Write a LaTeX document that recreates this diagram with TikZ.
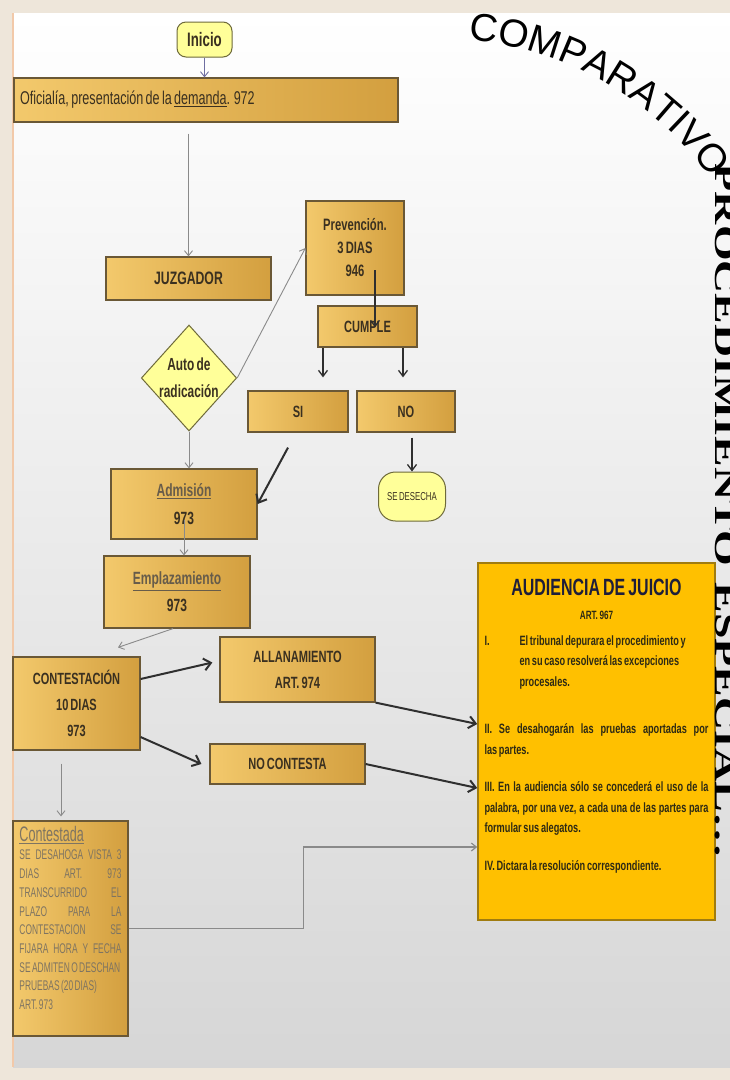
\documentclass[tikz,border=0pt]{standalone}
\usepackage{fontspec}
\setmainfont{Liberation Sans}
\newfontfamily\narrowsf[FakeStretch=0.68, WordSpace=0.68]{Liberation Sans}
\newfontfamily\condsf[FakeStretch=0.6, WordSpace=0.6]{Liberation Sans}
\newfontfamily\tallserif[FakeStretch=1.48, WordSpace=1.48]{Liberation Serif}
\newfontfamily\wordsf{Liberation Sans}
\usetikzlibrary{shapes.geometric, arrows.meta, positioning, decorations.text}

\definecolor{goldlight}{HTML}{F3C96C}
\definecolor{golddark}{HTML}{D39F3F}
\definecolor{boxline}{HTML}{6A5836}
\definecolor{boxtext}{HTML}{3A3020}
\definecolor{paleyellow}{HTML}{FFFF99}
\definecolor{yellowline}{HTML}{6E6A3A}
\definecolor{audfill}{HTML}{FFC000}
\definecolor{audline}{HTML}{A07C10}
\definecolor{audtitle}{HTML}{1E1E3A}
\definecolor{audtext}{HTML}{2E2A14}
\definecolor{linkgray}{HTML}{675C4A}
\definecolor{softgray}{HTML}{7E7462}
\definecolor{arrgray}{HTML}{8A8A8A}
\definecolor{arrdark}{HTML}{2F2F2F}
\definecolor{framebg}{HTML}{EEE6DA}
\definecolor{edgeline}{HTML}{F2C9A9}

\begin{document}
\begin{tikzpicture}[x=1pt, y=-1pt,
  goldbox/.style={draw=boxline, line width=1.2pt, left color=goldlight, right color=golddark, inner sep=0pt, text=boxtext, align=center},
  yellowbox/.style={draw=yellowline, line width=1pt, fill=paleyellow, inner sep=0pt, text=boxtext, align=center},
  audbox/.style={draw=audline, line width=1.5pt, fill=audfill, inner sep=6pt, text=audtext},
  thinarr/.style={draw=arrgray, line width=0.9pt, -{Straight Barb[length=5pt,width=8pt]}},
  darkarr/.style={draw=arrdark, line width=1.3pt, -{Straight Barb[length=6pt,width=9pt]}},
  thickarr/.style={draw=arrdark, line width=2pt, -{Straight Barb[length=7pt,width=12pt]}},
]
\useasboundingbox (0,0) rectangle (730,1080);
% background
\fill[framebg] (0,0) rectangle (730,1080);
\shade[top color=white, bottom color=black!16] (13,13) rectangle (730,1067);
\draw[edgeline, line width=2pt] (13,13) -- (13,1067);

% title
\path[decorate, decoration={text along path, text align=fit to path,
  text={|\wordsf\fontsize{39}{39}\selectfont|COMPARATIVO}}]
  (468,40) arc[start angle=85, end angle=36, radius=335pt];

% flow
\node[yellowbox, rounded corners=9pt, minimum width=55pt, minimum height=35pt, font=\narrowsf\bfseries\fontsize{19.5}{20}\selectfont] (inicio) at (204.5,39.5) {Inicio};
\node[goldbox, minimum width=384pt, minimum height=44pt, font=\narrowsf\fontsize{18.5}{20}\selectfont] (ofic) at (206,100) {\makebox[372pt][l]{Oficialía, presentación de la \underline{demanda}. 972}};
\node[goldbox, minimum width=165pt, minimum height=43pt, font=\narrowsf\bfseries\fontsize{18}{20}\selectfont] (juz) at (188.5,278.5) {JUZGADOR};
\node[yellowbox, diamond, aspect=0.9, minimum width=95pt, minimum height=105pt, font=\narrowsf\bfseries\fontsize{17.5}{27}\selectfont] (auto) at (189,378) {Auto de\\radicación};
\node[goldbox, minimum width=98pt, minimum height=94pt, font=\narrowsf\bfseries\fontsize{16.5}{23}\selectfont] (prev) at (355,248) {Prevención.\\3 DIAS\\946};
\node[goldbox, minimum width=99pt, minimum height=41pt, font=\narrowsf\bfseries\fontsize{16.3}{18}\selectfont] (cumple) at (367.5,326.5) {CUMPLE};
\node[goldbox, minimum width=100pt, minimum height=41pt, font=\narrowsf\bfseries\fontsize{16.3}{18}\selectfont] (si) at (298,411.5) {SI};
\node[goldbox, minimum width=98pt, minimum height=41pt, font=\narrowsf\bfseries\fontsize{16.3}{18}\selectfont] (no) at (406,411.5) {NO};
\node[yellowbox, rounded corners=17pt, minimum width=67pt, minimum height=49pt, font=\narrowsf\fontsize{11.5}{13}\selectfont] (desecha) at (412,496.5) {SE DESECHA};
\node[goldbox, minimum width=146pt, minimum height=70pt, font=\narrowsf\bfseries\fontsize{17.7}{28}\selectfont] (adm) at (184,504) {\textcolor{linkgray}{\underline{Admisión}}\\973};
\node[goldbox, minimum width=146pt, minimum height=72pt, font=\narrowsf\bfseries\fontsize{17.7}{27}\selectfont] (empl) at (177,592) {\textcolor{linkgray}{\underline{Emplazamiento}}\\973};
\node[goldbox, minimum width=127pt, minimum height=93pt, font=\narrowsf\bfseries\fontsize{16.2}{26}\selectfont] (cont) at (76.5,703.5) {CONTESTACIÓN\\10 DIAS\\973};
\node[goldbox, minimum width=155pt, minimum height=65pt, font=\narrowsf\bfseries\fontsize{16.3}{26}\selectfont] (allan) at (297.5,669.5) {ALLANAMIENTO\\ART. 974};
\node[goldbox, minimum width=155pt, minimum height=40pt, font=\narrowsf\bfseries\fontsize{16.2}{18}\selectfont] (nocont) at (287.5,764) {NO CONTESTA};
\node[goldbox, minimum width=115pt, minimum height=215pt, text=softgray, font=\condsf] (contd) at (70.5,928.5) {\parbox[c][205pt][t]{102pt}{%
  \fontsize{21}{24}\selectfont\underline{Contestada}\par
  \fontsize{14}{18.7}\selectfont SE DESAHOGA VISTA 3\linebreak DIAS ART. 973\linebreak TRANSCURRIDO EL\linebreak PLAZO PARA LA\linebreak CONTESTACION SE\linebreak FIJARA HORA Y FECHA\linebreak SE ADMITEN O DESCHAN\\ PRUEBAS (20 DIAS)\\ ART. 973}};
\node[audbox, minimum width=237pt, minimum height=357pt, font=\narrowsf\bfseries] (aud) at (596.5,741.5) {\parbox[c][345pt][t]{224pt}{%
  \vspace*{10pt}
  {\centering\color{audtitle}\fontsize{23.5}{24}\selectfont AUDIENCIA DE JUICIO\par
  \color{audtext}\fontsize{12}{24}\selectfont ART. 967\par}
  \vspace{5.5pt}
  \fontsize{13.5}{20.5}\selectfont
  \noindent\hangindent=35pt\hangafter=0\llap{\makebox[35pt][l]{I.}}El tribunal depurara el procedimiento y\\ en su caso resolverá las excepciones\\ procesales.\par
  \vspace{27pt}
  II. Se desahogarán las pruebas aportadas por\linebreak las partes.\par
  \vspace{17pt}
  III. En la audiencia sólo se concederá el uso de la\linebreak palabra, por una vez, a cada una de las partes para\linebreak formular sus alegatos.\par
  \vspace{17pt}
  IV. Dictara la resolución correspondiente.}};
\node[rotate=-90, font=\tallserif\bfseries\fontsize{31}{31}\selectfont] (proc) at (726,511) {PROCEDIMIENTO ESPECIAL…};

% connectors
\draw[thinarr, draw=arrgray!80!blue] (inicio.south) -- (inicio.south |- ofic.north);
\draw[thinarr, shorten <=11pt] (ofic.south -| juz.north) -- (juz.north);
\draw[thinarr] (auto.east) -- (prev.west);
\draw[darkarr] ([xshift=20pt,yshift=-22pt]prev.center) -- ([xshift=20pt,yshift=-22pt]prev.center |- cumple.north);
\draw[darkarr, shorten >=13pt] ([xshift=-44.5pt]cumple.south) -- ([xshift=-44.5pt]cumple.south |- si.north);
\draw[darkarr, shorten >=13pt] ([xshift=35.5pt]cumple.south) -- ([xshift=35.5pt]cumple.south |- no.north);
\draw[thickarr] ([shift={(-10pt,-15pt)}]si.south) -- (adm.east);
\draw[darkarr, shorten <=5pt] (no.south -| desecha.north) -- (desecha.north);
\draw[thinarr] (auto.south) -- (auto.south |- adm.north);
\draw[thinarr, shorten <=16pt] (adm.center) -- (adm.center |- empl.north);
\draw[thinarr] ([xshift=-4pt]empl.south) -- ([shift={(41.5pt,9pt)}]cont.north);
\draw[thickarr] ([yshift=24.5pt]cont.east) -- ([shift={(-7pt,7pt)}]allan.west);
\draw[thickarr] ([yshift=-33.5pt]cont.east) -- ([xshift=-8pt]nocont.west);
\draw[thickarr] (allan.south east) -- ([yshift=17.5pt]aud.west);
\draw[thickarr] (nocont.east) -- ([yshift=-46.5pt]aud.west);
\draw[thinarr, shorten <=13pt, shorten >=4pt] ([xshift=-15.5pt]cont.south) -- ([xshift=-15.5pt]cont.south |- contd.north);
\draw[thinarr, line width=1.2pt] (contd.east) -- ++(175,0) |- ([yshift=-105.5pt]aud.west);
\end{tikzpicture}
\end{document}
